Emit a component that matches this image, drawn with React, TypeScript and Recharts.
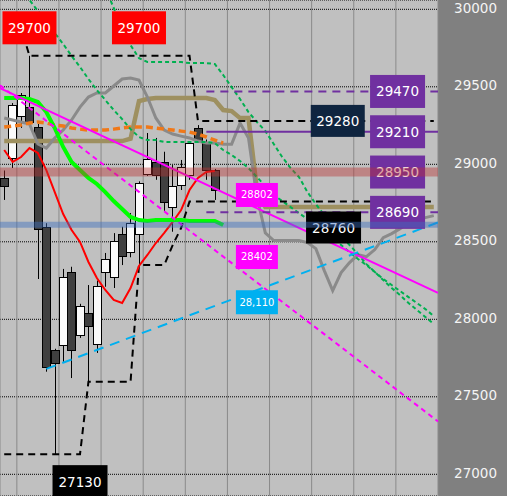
import React from "react";
import {
  ComposedChart,
  Bar,
  Line,
  XAxis,
  YAxis,
  CartesianGrid,
  ReferenceLine,
  ReferenceDot,
} from "recharts";

// panel scale
const priceDomain = [26860, 30060];
const priceTicks = [27000, 27500, 28000, 28500, 29000, 29500, 30000];
const slots = Array.from({ length: 52 }, (_, i) => i);
const gridSlots = [1.5, 6.5, 11.5, 16.5, 21.5, 26.5, 31.5, 36.5, 41.5, 46.5];

// candles (k = 0..25)
const candleOpen = [28912, 29041, 29312, 29369, 29240, 28597, 27802, 27834, 28307, 27899, 28039, 27839, 28303, 28275, 28550, 28432, 28549, 28937, 29017, 29017, 28726, 28866, 28931, 29232, 29146, 28963];
const candleHigh = [28960, 29395, 29460, 29700, 29260, 28620, 27810, 28325, 28339, 28100, 28221, 28250, 28428, 28556, 28597, 28686, 28890, 29202, 29170, 29081, 28995, 29028, 29150, 29253, 29160, 28970];
const candleLow = [28770, 28976, 29235, 29250, 28260, 27662, 27130, 27726, 27621, 27880, 27600, 27783, 28210, 28202, 28350, 28400, 28350, 28925, 28900, 28700, 28565, 28834, 28900, 29140, 28900, 28770];
const candleClose = [28860, 29383, 29447, 29272, 28582, 27694, 27716, 28275, 27802, 28088, 27952, 28215, 28387, 28505, 28410, 28619, 28877, 29032, 28930, 28759, 28860, 28981, 29139, 29157, 28968, 28834];

// indicator lines
const greenLine = [29428, 29428, 29428, 29421, 29402, 29337, 29234, 29112, 29015, 28963, 28912, 28873, 28821, 28763, 28712, 28660, 28640, 28634, 28640, 28640, 28640, 28640, 28634, 28634, 28634, 28634, 28608];
const redLine = [29092, 29015, 29047, 29105, 29073, 28963, 28821, 28679, 28576, 28499, 28370, 28266, 28189, 28125, 28105, 28202, 28344, 28415, 28492, 28557, 28628, 28705, 28834, 28912, 28950, 28957];
const orangeLine = [29240, 29247, 29253, 29266, 29273, 29266, 29253, 29247, 29234, 29227, 29221, 29221, 29221, 29227, 29234, 29240, 29240, 29240, 29234, 29227, 29221, 29214, 29208, 29195, 29176, 29156, 29137];
const grayLine = [29299, 29286, 29273, 29260, 29131, 29105, 29170, 29221, 29286, 29369, 29434, 29460, 29460, 29505, 29550, 29556, 29543, 29434, 29299, 29221, 29195, 29182, 29170, 29150, 29137, 29137, 29130, 29130, 29266, 29170, 28790, 28557, 28508, 28508, 28508, 28508, 28495, 28456, 28314, 28185, 28301, 28366, 28417, 28404, 28450, 28527, 28553, 28585, 28624, 28643, 28656, 28669];
const khakiLine = [29150, 29150, 29150, 29150, 29150, 29150, 29150, 29150, 29150, 29150, 29150, 29150, 29150, 29150, 29150, 29165, 29408, 29421, 29427, 29427, 29427, 29427, 29427, 29427, 29427, 29415, 29350, 29343, 29298, 29298, 28835, 28724, 28724, 28724, 28724, 28724, 28724, 28724, 28724, 28724, 28724, 28724, 28724, 28724, 28724, 28724, 28724, 28724, 28724, 28724, 28724, 28724];
const bandUpperStart = 12;
const bandUpper = [30138, 30009, 29879, 29769, 29685, 29660, 29660, 29660, 29660, 29660, 29653, 29653, 29653, 29647, 29576, 29498, 29421, 29337, 29273, 29215, 29131, 29047, 28976, 28918, 28821, 28743, 28672, 28608, 28537, 28479, 28421, 28356, 28305, 28253, 28202, 28156, 28105, 28060, 28015, 27970];
const bandLowerStart = 2;
const bandLower = [30125, 30060, 29989, 29918, 29847, 29776, 29699, 29628, 29550, 29479, 29415, 29350, 29292, 29227, 29176, 29156, 29156, 29144, 29144, 29144, 29144, 29144, 29144, 29137, 29092, 29060, 29021, 28976, 28918, 28860, 28802, 28763, 28724, 28685, 28647, 28608, 28563, 28518, 28479, 28434, 28389, 28350, 28305, 28260, 28221, 28182, 28143, 28105, 28066, 28021];
const stepHigh = [29880, 29880, 29880, 29700, 29700, 29700, 29700, 29700, 29700, 29700, 29700, 29700, 29700, 29700, 29700, 29700, 29700, 29700, 29700, 29700, 29700, 29700, 29700, 29280, 29280, 29280, 29280, 29280, 29280, 29280, 29280, 29280, 29280, 29280, 29280, 29280, 29280, 29280, 29280, 29280, 29280, 29280, 29280, 29280, 29280, 29280, 29280, 29280, 29280, 29280, 29280, 29280];
const stepLow = [27130, 27130, 27130, 27130, 27130, 27130, 27130, 27130, 27130, 27130, 27597, 27597, 27597, 27597, 27597, 27597, 28350, 28350, 28350, 28350, 28479, 28589, 28760, 28760, 28760, 28760, 28760, 28760, 28760, 28760, 28760, 28760, 28760, 28760, 28760, 28760, 28760, 28760, 28760, 28760, 28760, 28760, 28760, 28760, 28760, 28760, 28760, 28760, 28760, 28760, 28760, 28760];

// trend lines: [start slot, start price, end slot, end price]
const trendSolid = [-0.5, 29492, 51.5, 28170];
const trendDashed = [-0.5, 29510, 51.5, 27341];
const supportLine = [5, 27680, 51.5, 28625];

// horizontal levels
const levelStart = 24;
const purpleLevels = [29470, 29210, 28690];
const redZone = 28950;
const blueZone = 28610;
const highMark = 29700;
const lowMark = 27130;
const stopHigh = 29280;
const stopLow = 28760;
const rightTags = [29470, 29210, 28950, 28690];
const trendTags = [
  { value: 28802, text: "28802", color: "#ff00ff" },
  { value: 28402, text: "28402", color: "#ff00ff" },
  { value: 28110, text: "28,110", color: "#00b0f0" },
];

const rows = slots.map((k) => ({
  k,
  range: k < candleOpen.length ? [candleLow[k], candleHigh[k]] : null,
  o: candleOpen[k],
  h: candleHigh[k],
  l: candleLow[k],
  c: candleClose[k],
  green: greenLine[k] ?? null,
  red: redLine[k] ?? null,
  orange: orangeLine[k] ?? null,
  gray: grayLine[k] ?? null,
  khaki: khakiLine[k] ?? null,
  bandU: k >= bandUpperStart ? bandUpper[k - bandUpperStart] : null,
  bandL: k >= bandLowerStart ? bandLower[k - bandLowerStart] : null,
  stepH: stepHigh[k],
  stepL: stepLow[k],
}));

const FONT = "DejaVu Sans, Verdana, sans-serif";

function Candle(props: any) {
  const { x, y, width, height, payload } = props;
  if (!payload || payload.o == null || !height) return <g />;
  const { o, h, l, c } = payload;
  const ppu = height / (h - l);
  const top = y + (h - Math.max(o, c)) * ppu;
  const bot = y + (h - Math.min(o, c)) * ppu;
  const mid = Math.round(x + width / 2) + 0.5;
  const left = Math.round(x) + 0.5;
  return (
    <g>
      <line x1={mid} x2={mid} y1={y} y2={y + height} stroke="#000" strokeWidth={1} />
      <rect
        x={left}
        y={Math.round(top) + 0.5}
        width={Math.round(width)}
        height={Math.max(1, Math.round(bot - top))}
        fill={c >= o ? "#fafafa" : "#404040"}
        stroke="#000"
        strokeWidth={1}
      />
    </g>
  );
}

function tag(text: string, bg: string, w: number, h: number, dy = 0, fs = 13.5) {
  return (p: any) => (
    <g>
      <rect x={p.cx - w / 2} y={p.cy + dy - h / 2} width={w} height={h} fill={bg} />
      <text
        x={p.cx}
        y={p.cy + dy}
        textAnchor="middle"
        dominantBaseline="central"
        fill="#ffffff"
        fontSize={fs}
        fontFamily={FONT}
      >
        {text}
      </text>
    </g>
  );
}

function PriceTick(props: any) {
  const { y, payload } = props;
  return (
    <text x={497} y={y - 1.5} textAnchor="end" dominantBaseline="central" fill="#f4f4f4" fontSize={13.5} fontFamily={FONT}>
      {payload.value}
    </text>
  );
}

const lineBase = { dot: false, activeDot: false, isAnimationActive: false } as const;

export default function App() {
  return (
    <div style={{ position: "absolute", left: 0, top: 0, width: 507, height: 496, background: "#808080" }}>
      <ComposedChart
        width={507}
        height={496}
        data={rows}
        margin={{ top: 0, right: 0, bottom: 0, left: 0 }}
        barCategoryGap={0}
        barGap={0}
      >
        <XAxis xAxisId={0} type="number" dataKey="k" domain={[-0.5, 51.5]} ticks={gridSlots} allowDataOverflow hide />
        <XAxis xAxisId="c" type="category" dataKey="k" hide />
        <YAxis
          orientation="right"
          width={69}
          domain={priceDomain}
          ticks={priceTicks}
          allowDataOverflow
          axisLine={false}
          tickLine={false}
          interval={0}
          tick={<PriceTick />}
        />
        <CartesianGrid fill="#c0c0c0" vertical={false} stroke="#000" strokeDasharray="1 1" />
        <CartesianGrid horizontal={false} stroke="#8a8a8a" />

        <Bar xAxisId="c" dataKey="range" shape={Candle} activeBar={false} isAnimationActive={false} />

        <Line dataKey="khaki" stroke="#9e9060" strokeWidth={4.5} {...lineBase} />
        <Line dataKey="gray" stroke="#8a8a8a" strokeWidth={3} {...lineBase} />
        <Line dataKey="orange" stroke="#f07818" strokeWidth={3.5} strokeDasharray="7 4" {...lineBase} />
        <Line dataKey="bandU" stroke="#00b050" strokeWidth={2} strokeDasharray="4 3" {...lineBase} />
        <Line dataKey="bandL" stroke="#00b050" strokeWidth={2} strokeDasharray="4 3" {...lineBase} />
        <Line dataKey="stepH" stroke="#000" strokeWidth={2} strokeDasharray="7 5" {...lineBase} />
        <Line dataKey="stepL" stroke="#000" strokeWidth={2} strokeDasharray="7 5" {...lineBase} />
        <Line dataKey="red" stroke="#ff0000" strokeWidth={2} {...lineBase} />
        <Line dataKey="green" stroke="#00ff00" strokeWidth={4} {...lineBase} />

        <ReferenceLine
          segment={[{ x: trendSolid[0], y: trendSolid[1] }, { x: trendSolid[2], y: trendSolid[3] }]}
          stroke="#ff00ff"
          strokeWidth={2}
          ifOverflow="visible"
        />
        <ReferenceLine
          segment={[{ x: trendDashed[0], y: trendDashed[1] }, { x: trendDashed[2], y: trendDashed[3] }]}
          stroke="#ff00ff"
          strokeWidth={2}
          strokeDasharray="5 4"
          ifOverflow="visible"
        />
        <ReferenceLine
          segment={[{ x: supportLine[0], y: supportLine[1] }, { x: supportLine[2], y: supportLine[3] }]}
          stroke="#00b0f0"
          strokeWidth={2}
          strokeDasharray="10 7"
          ifOverflow="visible"
        />
        {purpleLevels.map((p, i) => (
          <ReferenceLine
            key={p}
            segment={[{ x: levelStart, y: p }, { x: 51.5, y: p }]}
            stroke="#7030a0"
            strokeWidth={2}
            strokeDasharray={i === 1 ? undefined : "8 6"}
            ifOverflow="visible"
          />
        ))}

        <ReferenceDot x={3} y={highMark} r={1} ifOverflow="visible" shape={tag("29700", "#ff0000", 54, 33, -28)} />
        <ReferenceDot x={16} y={highMark} r={1} ifOverflow="visible" shape={tag("29700", "#ff0000", 54, 33, -28)} />
        <ReferenceDot x={9} y={lowMark} r={1} ifOverflow="visible" shape={tag("27130", "#000000", 55, 33, 27.5)} />
        <ReferenceDot x={39.6} y={stopHigh} r={1} ifOverflow="visible" shape={tag("29280", "#0f2540", 54, 32)} />
        <ReferenceDot x={39.1} y={stopLow} r={1} ifOverflow="visible" shape={tag("28760", "#000000", 55, 32, 26)} />
        {rightTags.map((p) => (
          <ReferenceDot key={p} x={46.7} y={p} r={1} ifOverflow="visible" shape={tag(String(p), "#7030a0", 55, 33)} />
        ))}
        {trendTags.map((t) => (
          <ReferenceDot key={t.text} x={30} y={t.value} r={1} ifOverflow="visible" shape={tag(t.text, t.color, 42, 24, 0, 10)} />
        ))}

        {/* translucent zones sit on top of everything, as in the source */}
        <ReferenceLine y={redZone} stroke="rgba(185,50,50,0.42)" strokeWidth={9} zIndex={3000} />
        <ReferenceLine y={blueZone} stroke="rgba(60,110,190,0.45)" strokeWidth={6} zIndex={3000} />
      </ComposedChart>
    </div>
  );
}
